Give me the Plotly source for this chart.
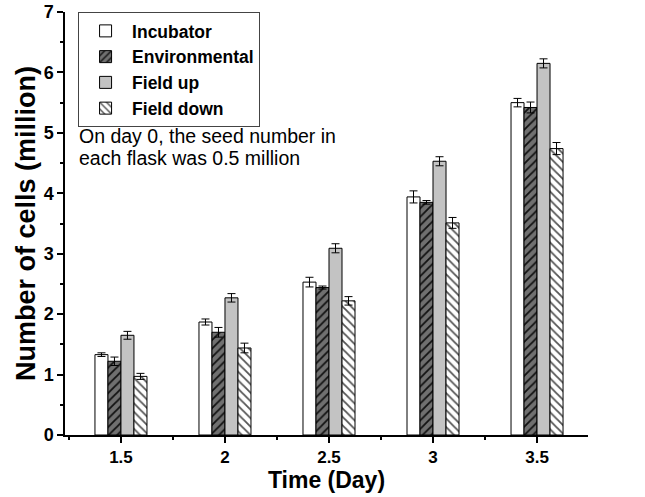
import plotly.graph_objects as go

# Cell counts (million) per culture condition, days 1.5 to 3.5
days = [1.5, 2.0, 2.5, 3.0, 3.5]
day_labels = ["1.5", "2", "2.5", "3", "3.5"]

incubator = [1.33, 1.87, 2.53, 3.94, 5.50]
incubator_err = [0.03, 0.05, 0.08, 0.10, 0.07]

environmental = [1.22, 1.70, 2.44, 3.85, 5.42]
environmental_err = [0.07, 0.08, 0.025, 0.03, 0.09]

field_up = [1.65, 2.27, 3.09, 4.53, 6.15]
field_up_err = [0.065, 0.07, 0.075, 0.075, 0.075]

field_down = [0.97, 1.44, 2.22, 3.51, 4.74]
field_down_err = [0.05, 0.08, 0.07, 0.09, 0.10]

note_lines = ["On day 0, the seed number in", "each flask was 0.5 million"]

FONT = "Arial, Liberation Sans, sans-serif"

series = [
    ("Incubator", incubator, incubator_err,
     dict(color="white")),
    ("Environmental", environmental, environmental_err,
     dict(color="#707070",
          pattern=dict(shape="/", bgcolor="#707070", fgcolor="#111111",
                       size=6, solidity=0.3, fillmode="replace"))),
    ("Field up", field_up, field_up_err,
     dict(color="#c3c3c3")),
    ("Field down", field_down, field_down_err,
     dict(color="white",
          pattern=dict(shape="\\", bgcolor="white", fgcolor="#555555",
                       size=6, solidity=0.3, fillmode="replace"))),
]

fig = go.Figure()
for name, vals, errs, marker in series:
    marker = dict(marker)
    marker["line"] = dict(color="black", width=1)
    fig.add_trace(go.Bar(
        name=name, x=days, y=vals,
        marker=marker,
        error_y=dict(type="data", array=errs, visible=True,
                     color="black", thickness=1, width=4),
    ))

# two-line note below the legend
notes = [
    dict(text=line, xref="paper", yref="paper", x=0.023, y=ypos,
         xanchor="left", yanchor="middle", align="left", showarrow=False,
         font=dict(family=FONT, size=19.5, color="black"))
    for line, ypos in zip(note_lines, [0.707, 0.655])
]

fig.update_layout(
    width=645, height=497,
    margin=dict(l=65, r=57, t=12, b=62, autoexpand=False),
    paper_bgcolor="white", plot_bgcolor="white",
    barmode="group", bargap=0.5, bargroupgap=0,
    font=dict(family=FONT, color="black"),
    showlegend=True,
    legend=dict(
        x=0.025, y=1.0, xanchor="left", yanchor="top",
        bgcolor="white", bordercolor="#444444", borderwidth=1,
        font=dict(family=FONT, size=17.5, weight="bold", color="black"),
        tracegroupgap=0, itemwidth=43,
    ),
    annotations=notes,
)

fig.update_xaxes(
    range=[1.231, 3.745], automargin=False,
    tickmode="array", tickvals=days, ticktext=day_labels,
    ticks="outside", ticklen=6, tickwidth=1.5, tickcolor="black",
    minor=dict(dtick=0.25, tick0=1.25, ticks="outside", ticklen=3,
               tickwidth=1.5, tickcolor="black", showgrid=False),
    showline=True, linecolor="black", linewidth=1.5,
    showgrid=False, zeroline=False,
    tickfont=dict(family=FONT, size=17, weight="bold"),
    title=dict(text="Time (Day)", standoff=3,
               font=dict(family=FONT, size=23, weight="bold")),
)

fig.update_yaxes(
    range=[0, 7], dtick=1, tick0=0, automargin=False,
    ticks="outside", ticklen=6, tickwidth=1.5, tickcolor="black",
    minor=dict(dtick=0.5, ticks="outside", ticklen=3,
               tickwidth=1.5, tickcolor="black", showgrid=False),
    showline=True, linecolor="black", linewidth=1.5,
    showgrid=False, zeroline=False,
    tickfont=dict(family=FONT, size=18, weight="bold"),
    title=dict(text="Number of cells (million)", standoff=0,
               font=dict(family=FONT, size=27, weight="bold")),
)

fig.write_html("out.html")
